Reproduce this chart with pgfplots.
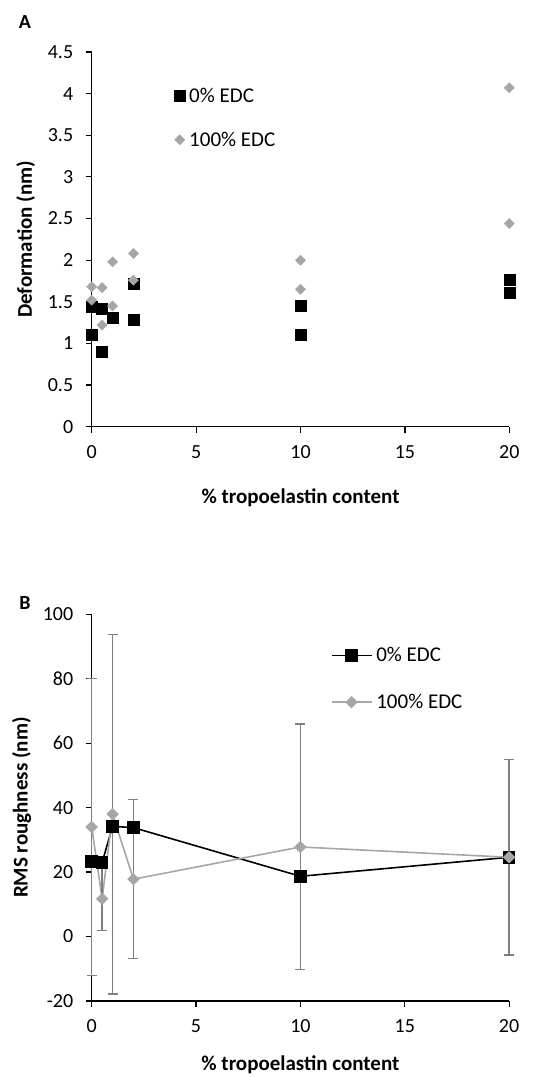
\documentclass[border=0pt]{standalone}
\usepackage{pgfplots}
\pgfplotsset{compat=1.18}
\usepackage{fontspec}
\setmainfont{Carlito}

\definecolor{dgray}{HTML}{A6A6A6}
\definecolor{egray}{HTML}{7F7F7F}

\pgfplotsset{
  excel/.style={
    scale only axis, clip=false,
    axis x line=bottom, axis y line=left,
    axis line style={line width=1.5pt,-},
    tick align=outside, major tick length=6pt,
    tick style={line width=1.2pt,black},
    xmin=0, xmax=20, xtick={0,5,10,15,20},
    /pgf/number format/assume math mode=true,
    tick label style={font=\fontsize{20}{20}\selectfont},
    xticklabel style={yshift=-9pt},
    yticklabel style={xshift=-9pt},
    every axis x label/.style={at={(axis description cs:0.5,0)},anchor=center,font=\bfseries\fontsize{21}{21}\selectfont},
    every axis y label/.style={at={(axis description cs:0,0.5)},anchor=center,font=\bfseries\fontsize{21}{21}\selectfont},
    legend style={draw=none, fill=none, anchor=north west, font=\fontsize{21}{21}\selectfont, legend cell align=left,
      nodes={inner xsep=4pt}},
  }
}

% panel A
\pgfplotstableread{
x y
0 1.44
0 1.11
0.5 1.42
0.5 0.90
1 1.31
2 1.72
2 1.29
10 1.45
10 1.10
20 1.77
20 1.61
}\defA
\pgfplotstableread{
x y
0 1.68
0 1.52
0.5 1.67
0.5 1.22
1 1.98
1 1.45
2 2.08
2 1.76
10 2.00
10 1.65
20 2.44
20 4.07
}\fullA

% panel B
\pgfplotstableread{
x y
0 23.3
0.5 23.0
1 34.2
2 33.8
10 18.7
20 24.6
}\defB
\pgfplotstableread{
x y err
0 34.0 46.0
0.5 11.7 9.9
1 38.0 55.8
2 17.8 24.7
10 27.8 38.1
20 24.6 30.3
}\fullB

\begin{document}
\begin{tikzpicture}
\path[use as bounding box] (0,0) rectangle (539pt,1077pt);

\node[font=\bfseries\fontsize{20}{20}\selectfont] at (25pt,1055pt) {A};
\node[font=\bfseries\fontsize{20}{20}\selectfont] at (25pt,474pt) {B};

\begin{axis}[excel,
  at={(91.7pt,650.3pt)}, anchor=south west,
  width=417.6pt, height=374.7pt,
  ymin=0, ymax=4.5, ytick={0,0.5,...,4.5},
  yticklabels={0,0.5,1,1.5,2,2.5,3,3.5,4,4.5},
  xlabel={\% tropoelastin content}, ylabel={Deformation (nm)},
  xlabel style={yshift=-71pt},
  ylabel style={xshift=-66pt,rotate=90},
  legend style={at={(axis description cs:0.19,0.915)}, row sep=24pt},
]
\addplot[only marks, mark=square*, mark size=5.5pt, black] table {\defA};
\addlegendentry{0\% EDC}
\addplot[only marks, mark=square*, mark size=3.6pt, mark options={rotate=45}, dgray, draw=dgray, fill=dgray] table {\fullA};
\addlegendentry{100\% EDC}
\end{axis}

\begin{axis}[excel,
  at={(91.7pt,76pt)}, anchor=south west,
  width=417.4pt, height=386.7pt,
  ymin=-20, ymax=100, ytick={-20,0,...,100},
  xlabel={\% tropoelastin content}, ylabel={RMS roughness (nm)},
  xlabel style={yshift=-64pt},
  ylabel style={xshift=-70pt,rotate=90},
  legend style={at={(axis description cs:0.565,0.925)}, row sep=27pt},
  legend image code/.code={\draw[mark repeat=2,mark phase=2,#1] plot coordinates {(0pt,0pt) (20pt,0pt) (40pt,0pt)};},
]
\addplot[black, line width=1.6pt, mark=square*, mark size=5.5pt, mark options={solid}] table {\defB};
\addlegendentry{0\% EDC}
\addplot[dgray, line width=1.6pt, mark=square*, mark size=3.6pt, mark options={rotate=45, fill=dgray},
  error bars/.cd, y dir=both, y explicit,
  error bar style={egray, line width=1.4pt},
  error mark options={egray, rotate=90, mark size=5pt, line width=1.4pt}]
  table[y error=err] {\fullB};
\addlegendentry{100\% EDC}
\end{axis}
\end{tikzpicture}
\end{document}
